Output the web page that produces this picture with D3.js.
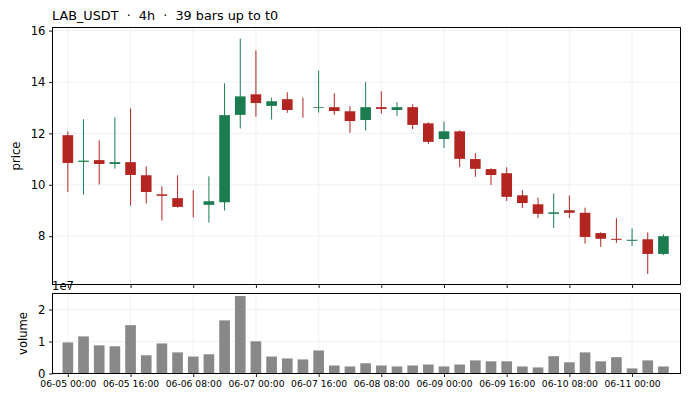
<!DOCTYPE html>
<html>
<head>
<meta charset="utf-8">
<script src="https://cdn.jsdelivr.net/npm/d3@7"></script>
<style>
  body { margin: 0; background: #fff; }
  svg { display: block; font-family: "DejaVu Sans", sans-serif; }
</style>
</head>
<body>
<div id="chart"></div>
<script>
// OHLC per 4h bar
var opens  = [11.93, 10.89, 10.96, 10.81, 10.88, 10.37, 9.63, 9.48, 9.22, 9.22,
              9.32, 12.72, 13.52, 13.07, 13.33, 13.00, 12.99, 13.02, 12.86, 12.52,
              13.02, 12.91, 13.02, 12.39, 11.78, 12.08, 11.00, 10.61, 10.45, 9.59,
              9.24, 8.87, 9.01, 8.91, 8.12, 7.90, 7.82, 7.88, 7.31];
var highs  = [12.08, 12.55, 11.73, 12.62, 12.97, 10.72, 9.94, 10.37, 9.79, 10.33,
              13.95, 15.69, 15.23, 13.39, 13.60, 13.39, 14.44, 13.56, 13.06, 13.99,
              13.64, 13.21, 13.13, 12.43, 12.46, 12.12, 11.23, 10.64, 10.68, 9.79,
              9.50, 9.66, 9.58, 9.11, 8.15, 8.70, 8.30, 8.15, 8.07];
var lows   = [9.72, 9.62, 10.01, 10.63, 9.19, 9.27, 8.61, 9.11, 8.73, 8.53,
              9.00, 12.19, 12.65, 12.54, 12.80, 12.61, 12.81, 12.72, 12.02, 12.11,
              12.77, 12.68, 12.17, 11.59, 11.43, 10.69, 10.31, 9.99, 9.37, 9.10,
              8.71, 8.32, 8.71, 7.71, 7.58, 7.74, 7.62, 6.53, 7.27];
var closes = [10.85, 10.94, 10.81, 10.88, 10.38, 9.72, 9.57, 9.14, 9.22, 9.36,
              12.71, 13.44, 13.18, 13.25, 12.91, 13.00, 13.02, 12.87, 12.48, 13.02,
              12.95, 13.02, 12.33, 11.67, 12.08, 11.01, 10.62, 10.38, 9.53, 9.29,
              8.87, 8.93, 8.91, 7.97, 7.90, 7.86, 7.86, 7.31, 8.00];
var volumes = [0.97e7, 1.16e7, 0.88e7, 0.85e7, 1.51e7, 0.57e7, 0.94e7, 0.66e7, 0.53e7, 0.60e7,
               1.66e7, 2.42e7, 1.005e7, 0.53e7, 0.47e7, 0.44e7, 0.72e7, 0.25e7, 0.22e7, 0.32e7,
               0.25e7, 0.22e7, 0.25e7, 0.28e7, 0.22e7, 0.28e7, 0.41e7, 0.38e7, 0.38e7, 0.22e7,
               0.19e7, 0.54e7, 0.35e7, 0.66e7, 0.38e7, 0.51e7, 0.16e7, 0.41e7, 0.22e7];

var tickBars   = [0, 4, 8, 12, 16, 20, 24, 28, 32, 36];
var tickLabels = ["06-05 00:00", "06-05 16:00", "06-06 08:00", "06-07 00:00", "06-07 16:00",
                  "06-08 08:00", "06-09 00:00", "06-09 16:00", "06-10 08:00", "06-11 00:00"];
var priceTicks  = [8, 10, 12, 14, 16];
var volumeTicks = [0, 1e7, 2e7];
var title = "LAB_USDT  \u00b7  4h  \u00b7  39 bars up to t0";

var W = 688, H = 400;
var left = 52.5, right = 680.5;
var pTop = 27.5, pBot = 284.5;
var vTop = 293.5, vBot = 373.5;
var UP = "#1b7d4f", DOWN = "#b22520", VOL = "#888888";
var GRID = "#ececec";

var svg = d3.select("#chart").append("svg")
    .attr("width", W).attr("height", H);

var x = d3.scaleLinear().domain([-0.98, 39.09]).range([left, right]);
var y = d3.scaleLinear().domain([6.12, 16.12]).range([pBot, pTop]);
var yv = d3.scaleLinear().domain([0, 2.5e7]).range([vBot, vTop]);

var bw = (x(1) - x(0)) * 0.68;
var bars = d3.range(opens.length);

function grid(g, top, bot, ys, yscale) {
    g.selectAll(".vg").data(tickBars).join("line")
	.attr("x1", d => x(d)).attr("x2", d => x(d))
	.attr("y1", top).attr("y2", bot)
	.attr("stroke", GRID).attr("stroke-width", 0.8);
    g.selectAll(".hg").data(ys).join("line")
	.attr("x1", left).attr("x2", right)
	.attr("y1", d => yscale(d)).attr("y2", d => yscale(d))
	.attr("stroke", GRID).attr("stroke-width", 0.8);
}

function style_axis(g, size) {
    g.select(".domain").remove();
    g.selectAll(".tick line").attr("stroke", "#000").attr("stroke-width", 0.9);
    g.selectAll(".tick text").attr("fill", "#000")
	.attr("font-family", "DejaVu Sans").attr("font-size", size);
}

// price panel
var pg = svg.append("g");
grid(pg.append("g"), pTop, pBot, priceTicks, y);

var col = i => closes[i] > opens[i] ? UP : DOWN;

pg.selectAll(".wick").data(bars).join("line")
    .attr("x1", i => x(i)).attr("x2", i => x(i))
    .attr("y1", i => y(highs[i])).attr("y2", i => y(lows[i]))
    .attr("stroke", col).attr("stroke-width", 1);

pg.selectAll(".body").data(bars).join("rect")
    .attr("x", i => x(i) - bw / 2)
    .attr("width", bw)
    .attr("y", i => y(Math.max(opens[i], closes[i])))
    .attr("height", i => Math.abs(y(opens[i]) - y(closes[i])))
    .attr("fill", col);

style_axis(pg.append("g").attr("transform", `translate(${left},0)`)
    .call(d3.axisLeft(y).tickValues(priceTicks).tickSize(3.5).tickPadding(3.5).tickSizeOuter(0)), "11.6px");
style_axis(pg.append("g").attr("transform", `translate(0,${pBot})`)
    .call(d3.axisBottom(x).tickValues(tickBars).tickFormat("").tickSize(3.5).tickSizeOuter(0)), "9px");

pg.append("rect").attr("x", left).attr("y", pTop)
    .attr("width", right - left).attr("height", pBot - pTop)
    .attr("fill", "none").attr("stroke", "#000").attr("stroke-width", 1);

// volume panel
var vg = svg.append("g");
grid(vg.append("g"), vTop, vBot, volumeTicks, yv);

vg.selectAll(".vol").data(bars).join("rect")
    .attr("x", i => x(i) - bw / 2)
    .attr("width", bw)
    .attr("y", i => yv(volumes[i]))
    .attr("height", i => yv(0) - yv(volumes[i]))
    .attr("fill", VOL);

style_axis(vg.append("g").attr("transform", `translate(${left},0)`)
    .call(d3.axisLeft(yv).tickValues(volumeTicks).tickFormat(d => d / 1e7)
	  .tickSize(3.5).tickPadding(3.5).tickSizeOuter(0)), "11.6px");
style_axis(vg.append("g").attr("transform", `translate(0,${vBot})`)
    .call(d3.axisBottom(x).tickValues(tickBars).tickFormat((d, k) => tickLabels[k])
	  .tickSize(3.5).tickPadding(3).tickSizeOuter(0)), "9.2px");

vg.append("rect").attr("x", left).attr("y", vTop)
    .attr("width", right - left).attr("height", vBot - vTop)
    .attr("fill", "none").attr("stroke", "#000").attr("stroke-width", 1);

// labels
svg.append("text").attr("x", 52).attr("y", 19.5)
    .attr("font-size", "12.8px").style("white-space", "pre")
    .text(title);
svg.append("text").attr("x", 52).attr("y", 290)
    .attr("font-size", "11.6px").text("1e7");
svg.append("text")
    .attr("transform", `translate(20,${(pTop + pBot) / 2}) rotate(-90)`)
    .attr("text-anchor", "middle").attr("font-size", "11.6px").text("price");
svg.append("text")
    .attr("transform", `translate(27,${(vTop + vBot) / 2}) rotate(-90)`)
    .attr("text-anchor", "middle").attr("font-size", "11.6px").text("volume");
</script>
</body>
</html>
